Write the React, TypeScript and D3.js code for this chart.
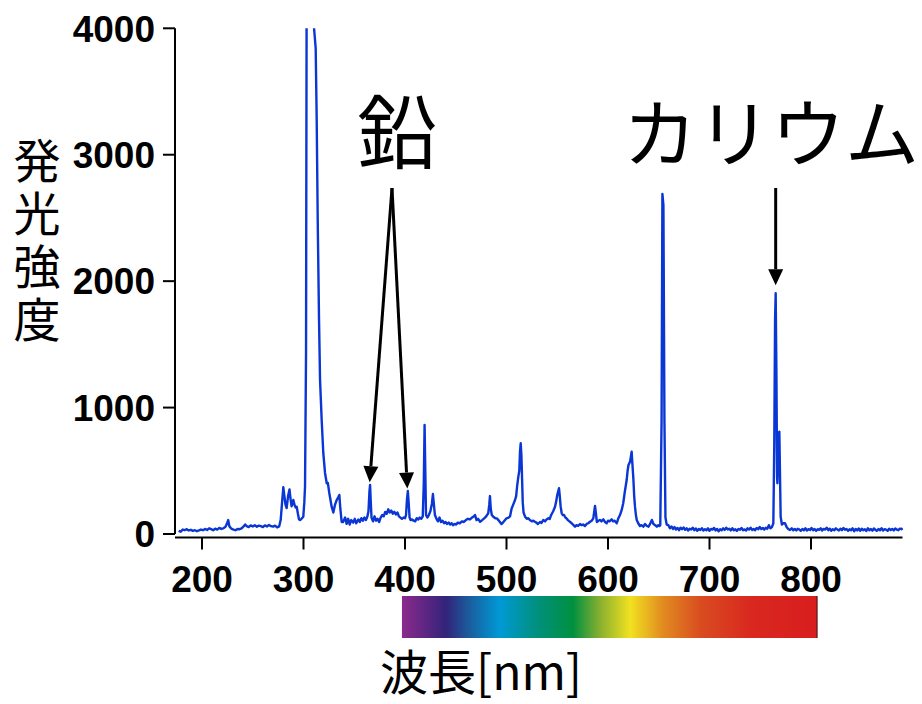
import React from 'react';
import * as d3 from 'd3';

// spectrum: [wavelength nm, intensity]
const spectrum: [number, number][] = [
  [177, 25], [179, 18], [181, 35], [183, 30], [185, 38], [187, 28], [189, 33], [191, 25], [193, 30], [195, 22],
  [197, 28], [199, 35], [201, 30], [203, 40], [205, 32], [207, 45], [209, 38], [211, 30], [213, 42], [215, 35],
  [217, 48], [219, 40], [221, 45], [223, 55], [224.5, 80], [225.8, 110], [227, 60], [229, 42], [231, 35], [233, 30],
  [235, 40], [237, 38], [239, 45], [241, 60], [242.5, 75], [244, 62], [246, 55], [248, 68], [250, 60], [252, 70],
  [254, 58], [256, 66], [258, 62], [260, 55], [262, 68], [264, 60], [266, 72], [268, 62], [270, 58], [272, 66],
  [274, 52], [276, 60], [277.5, 110], [279, 260], [280.1, 370], [281.2, 300], [282.3, 230], [283.4, 205], [284.8, 300],
  [286.2, 352], [287.2, 280], [288.2, 220], [289.2, 240], [290, 269], [291.2, 230], [292.3, 210], [293.3, 216],
  [294.5, 160], [295.6, 115], [296.6, 111], [298, 120], [299.8, 137], [300.8, 250], [301.5, 374], [302.5, 1432],
  [303.1, 4300], [304.5, 5600], [307, 6200], [309, 5000], [309.8, 4060], [312, 3843], [313, 3277], [314, 2485],
  [315.3, 1694], [316.3, 1219], [317.9, 902], [319.5, 641], [321.2, 483], [322.9, 401], [324, 404], [325.4, 324],
  [327.8, 214], [329.4, 170], [331, 230], [332.7, 269], [334.2, 290], [335.3, 309], [336.3, 200], [337.6, 95],
  [339, 95], [341, 130], [342.5, 80], [344, 120], [345.5, 75], [347, 110], [349, 90], [350.5, 120], [352, 85],
  [354, 115], [355.5, 95], [357, 125], [358.5, 105], [360, 130], [361.5, 110], [363, 140], [364, 180], [365, 340],
  [365.6, 388], [366.3, 250], [367, 130], [368.5, 100], [370, 140], [371.5, 105], [373, 120], [374.5, 95], [376, 130],
  [377.5, 150], [379, 140], [380.5, 175], [382, 160], [383.5, 195], [385, 170], [386.5, 185], [388, 160], [389.5, 175],
  [391, 155], [392.5, 170], [394, 140], [395.5, 130], [397, 120], [398.5, 130], [400, 125], [401, 150], [402, 280],
  [402.8, 340], [403.6, 250], [404.5, 130], [405.5, 110], [407, 115], [408.5, 105], [410, 100], [411.5, 125],
  [413, 115], [414.5, 130], [416, 120], [417.5, 140], [418.5, 400], [419.3, 862], [420, 500], [420.7, 150], [422, 130],
  [423.5, 150], [425, 180], [426.5, 240], [427.5, 316], [428.5, 230], [429.5, 150], [431, 120], [432.5, 100], [434, 130],
  [435.5, 95], [437, 105], [438.5, 85], [440, 95], [441.5, 80], [443, 90], [444.5, 75], [446, 85], [447.5, 70],
  [449, 80], [450.5, 75], [452, 90], [454, 85], [456, 100], [458, 95], [460, 110], [462, 120], [464, 115], [466, 130],
  [468, 140], [469, 150], [470.5, 110], [472, 120], [474, 97], [476, 110], [478, 124], [480, 140], [482, 164],
  [483, 230], [483.7, 300], [484.5, 200], [485.5, 150], [487, 137], [489, 125], [490.5, 124], [492, 110], [493.5, 95],
  [495, 79], [496.5, 90], [498, 105], [500, 124], [502, 130], [503.5, 140], [505, 200], [506.5, 230], [508.4, 269],
  [509.5, 300], [510.5, 380], [511.6, 450], [512.6, 500], [513.3, 650], [514, 718], [514.7, 620], [515.3, 450],
  [516, 250], [516.8, 170], [518.3, 137], [520, 120], [521.5, 125], [523, 111], [525, 100], [526.5, 105], [528, 97],
  [529.5, 90], [531, 79], [533, 95], [534.5, 88], [536.3, 111], [538, 100], [539.5, 115], [541.2, 124], [542.5, 118],
  [544, 150], [546, 180], [547.8, 216], [549, 260], [550, 309], [551, 340], [551.7, 362], [552.5, 300], [553.3, 220],
  [554.4, 164], [555.5, 150], [556.7, 150], [558, 130], [559, 124], [560.5, 110], [562, 100], [564.2, 85], [566, 70],
  [567.5, 58], [569, 70], [570.5, 65], [572.4, 79], [574, 70], [575.5, 75], [577.3, 63], [579, 80], [580.5, 85],
  [582.3, 97], [584, 105], [585.5, 124], [586.5, 180], [587.2, 222], [588, 170], [589, 95], [590.5, 105], [592, 111],
  [593.5, 100], [595.4, 116], [597, 95], [598.7, 85], [600, 105], [601.5, 100], [603.6, 116], [605, 100], [606.5, 105],
  [608.6, 85], [610, 120], [611.8, 150], [613.5, 190], [615, 243], [616.5, 330], [618.4, 427], [619.3, 500],
  [620.2, 546], [621.7, 572], [622.5, 610], [623.3, 651], [624, 560], [625, 435], [625.8, 300], [626.6, 216],
  [627.5, 150], [628.3, 111], [629.8, 85], [631.5, 63], [633, 70], [634.8, 58], [636.5, 79], [638, 65], [639.9, 58],
  [641.5, 80], [643.2, 111], [644.8, 79], [646.5, 70], [648.1, 58], [649.5, 70], [650.6, 63], [651.5, 70],
  [652.8, 900], [653.6, 2690], [654.6, 2600], [655.6, 900], [656.6, 130], [657.8, 75], [659.4, 71], [661, 45],
  [662.5, 60], [664, 40], [665.5, 55], [667, 35], [668.5, 48], [670, 30], [671.5, 50], [673, 38], [674.5, 52],
  [676, 33], [677.5, 45], [679, 28], [680.5, 42], [682, 35], [683.5, 50], [685, 30], [686.5, 44], [688, 25],
  [689.5, 40], [691, 32], [692.5, 46], [694, 28], [695.5, 38], [697, 30], [698.5, 45], [700, 25], [701.5, 40],
  [703, 35], [704.5, 48], [706, 28], [707.5, 40], [709, 22], [710.5, 38], [712, 30], [713.5, 45], [715, 32],
  [716.5, 50], [718, 35], [719.5, 42], [721, 28], [722.5, 45], [724, 30], [725.5, 38], [727, 25], [728.5, 40],
  [730, 33], [731.5, 48], [733, 30], [734.5, 36], [736, 28], [737.5, 45], [739, 35], [740.5, 50], [742, 32],
  [743.5, 40], [745, 30], [746.5, 48], [748, 38], [749.5, 55], [751, 40], [752.5, 48], [754, 35], [755.5, 50],
  [757, 42], [758.5, 70], [760, 45], [761.5, 55], [762.9, 85], [763.8, 700], [764.6, 1700], [765.2, 1905],
  [765.9, 1300], [766.6, 450], [766.9, 401], [767.6, 600], [768.3, 790], [768.8, 810], [769.4, 500], [770.1, 137],
  [771.3, 75], [772.8, 85], [774.4, 85], [776, 55], [777.5, 40], [779.3, 32], [781, 45], [782.5, 30], [784, 40],
  [785.5, 28], [787, 42], [788.5, 35], [790, 25], [791.5, 40], [793, 30], [794.5, 45], [796, 28], [797.5, 38],
  [799, 32], [800.5, 48], [802, 30], [803.5, 40], [805, 25], [806.5, 38], [808, 33], [809.5, 45], [811, 28],
  [812.5, 40], [814, 35], [815.5, 50], [817, 30], [818.5, 42], [820, 26], [821.5, 38], [823, 30], [824.5, 45],
  [826, 35], [827.5, 28], [829, 42], [830.5, 30], [832, 48], [833.5, 33], [835, 40], [836.5, 25], [838, 38],
  [839.5, 30], [841, 45], [842.5, 22], [844, 40], [845.5, 28], [847, 44], [848.5, 26], [850, 42], [851.5, 30],
  [853, 38], [854.5, 24], [856, 45], [857.5, 30], [859, 40], [860.5, 26], [862, 44], [863.5, 32], [865, 25],
  [866.5, 40], [868, 30], [869.5, 46], [871, 28], [872.5, 38], [874, 34], [875.5, 26], [877, 42], [878.5, 32],
  [880, 40], [881.5, 28], [883, 44], [884.5, 35], [886, 30], [887.5, 42], [889, 38], [890.3, 45],
];

const xTicks = [200, 300, 400, 500, 600, 700, 800];
const yTicks = [0, 1000, 2000, 3000, 4000];

const leadLabel = '鉛';
const leadPeaks: [number, number][] = [[365.2, 410], [402.3, 360]];
const potassiumLabel = 'カリウム';
const potassiumPeak: [number, number] = [765.2, 2000];
const yLabel = '発光強度';
const xLabel = '波長[nm]';

const rainbow: [number, string][] = [
  [0, '#8c2a8c'], [0.106, '#33237a'], [0.16, '#1b5b9c'], [0.235, '#0099d5'], [0.33, '#00907a'],
  [0.412, '#009040'], [0.477, '#88b030'], [0.55, '#f1e120'], [0.63, '#e18a20'], [0.72, '#d94c20'],
  [0.84, '#d9281f'], [1, '#d81e1e'],
];
const rainbowRange = [397, 806];

const numFont = '"Liberation Sans", Arial, sans-serif';
const jpFont = '"Noto Sans CJK JP", sans-serif';

function Arrow({ x1, y1, x2, y2 }: { x1: number; y1: number; x2: number; y2: number }) {
  const a = Math.atan2(y2 - y1, x2 - x1);
  const len = 16, hw = 7.5;
  const bx = x2 - len * Math.cos(a), by = y2 - len * Math.sin(a);
  const px = -Math.sin(a) * hw, py = Math.cos(a) * hw;
  return (
    <g>
      <line x1={x1} y1={y1} x2={bx} y2={by} stroke="#000" strokeWidth={3} />
      <path d={`M${x2},${y2}L${bx + px},${by + py}L${bx - px},${by - py}Z`} fill="#000" />
    </g>
  );
}

export default function App() {
  const x = d3.scaleLinear().domain([200, 800]).range([202, 811]);
  const y = d3.scaleLinear().domain([0, 4000]).range([534, 28.3]);
  const line = d3.line<[number, number]>().x(d => x(d[0])).y(d => y(d[1]));

  const axisX = 175;
  const axisY = 537.5;
  const xEnd = 902.5;

  return (
    <svg width={922} height={704} style={{ position: 'absolute', left: 0, top: 0 }}>
      <defs>
        <clipPath id="plot">
          <rect x={axisX} y={y(4000)} width={xEnd - axisX + 4} height={axisY - y(4000)} />
        </clipPath>
        <linearGradient id="rainbow" x1="0" x2="1" y1="0" y2="0">
          {rainbow.map(([o, c]) => <stop key={o} offset={o} stopColor={c} />)}
        </linearGradient>
      </defs>

      <path d={line(spectrum) || ''} fill="none" stroke="#0936d4" strokeWidth={2.4} strokeLinejoin="round" clipPath="url(#plot)" />

      {/* y axis */}
      <line x1={axisX} x2={axisX} y1={y(4000)} y2={y(0)} stroke="#000" strokeWidth={2} />
      {yTicks.map(t => (
        <g key={t}>
          <line x1={axisX - 12} x2={axisX} y1={y(t)} y2={y(t)} stroke="#000" strokeWidth={2} />
          <text x={155} y={y(t)} dy="0.36em" textAnchor="end" fontFamily={numFont} fontWeight="bold" fontSize={37}>{t}</text>
        </g>
      ))}

      {/* x axis */}
      <line x1={axisX} x2={xEnd} y1={axisY} y2={axisY} stroke="#000" strokeWidth={2} />
      {xTicks.map(t => (
        <g key={t}>
          <line x1={x(t)} x2={x(t)} y1={axisY} y2={axisY + 12} stroke="#000" strokeWidth={2} />
          <text x={x(t)} y={592} textAnchor="middle" fontFamily={numFont} fontWeight="bold" fontSize={37}>{t}</text>
        </g>
      ))}

      <rect x={x(rainbowRange[0])} y={596} width={x(rainbowRange[1]) - x(rainbowRange[0])} height={42} fill="url(#rainbow)" />
      <line x1={x(rainbowRange[1])} x2={x(rainbowRange[1])} y1={596} y2={638} stroke="#3a1212" strokeWidth={1} />

      {/* labels */}
      <text x={37} y={137} fontFamily={jpFont} fontSize={47}
        style={{ writingMode: 'vertical-rl', letterSpacing: '6px' }}>{yLabel}</text>
      <text x={481} y={690} textAnchor="middle" fontFamily={jpFont} fontSize={48}>{xLabel}</text>

      <text x={397} y={162} textAnchor="middle" fontFamily={jpFont} fontSize={80}>{leadLabel}</text>
      {leadPeaks.map(([nm, v]) => (
        <Arrow key={nm} x1={392} y1={188} x2={x(nm)} y2={y(v)} />
      ))}

      <text x={771} y={161} textAnchor="middle" fontFamily={jpFont} fontSize={74}>{potassiumLabel}</text>
      <Arrow x1={x(potassiumPeak[0])} y1={188} x2={x(potassiumPeak[0])} y2={y(potassiumPeak[1]) + 4} />
    </svg>
  );
}
